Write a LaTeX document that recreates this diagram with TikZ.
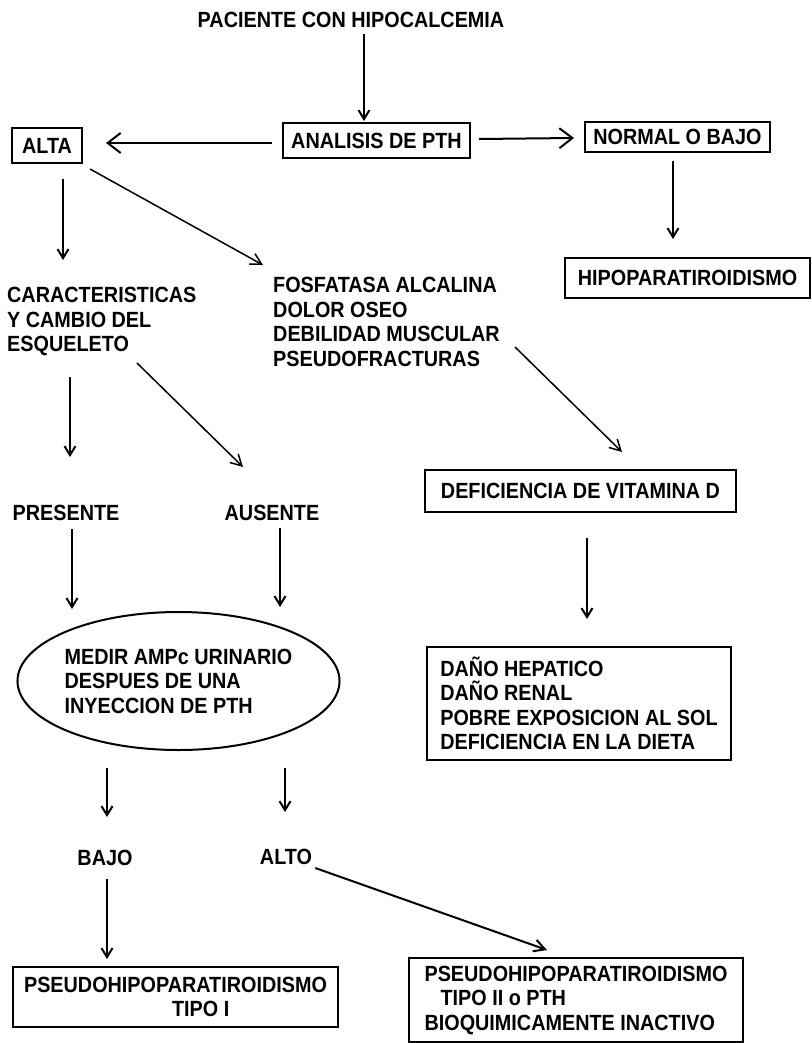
\documentclass[tikz,border=0pt]{standalone}
\usepackage{fontspec}
\setmainfont{Liberation Sans}[FakeStretch=0.9]
\usetikzlibrary{arrows.meta,shapes.geometric,calc}
\newcommand\dfont{\fontsize{22}{24.5}\selectfont\bfseries}
\begin{document}
\begin{tikzpicture}[x=1pt,y=-1pt,
  lbl/.style={inner sep=0pt,font=\dfont},
  txtblock/.style={inner sep=0pt,font=\dfont,align=left,anchor=north west},
  box/.style={draw,line width=2pt,inner sep=0pt,font=\dfont},
  arr/.style={line width=2pt,-{Straight Barb[length=9pt,width=11pt]}},
  harr/.style={line width=2pt,-{Straight Barb[length=13pt,width=20pt]}},
  darr/.style={line width=1.5pt,-{Straight Barb[length=11pt,width=12pt]}}]
\useasboundingbox (0,0) rectangle (811,1043);

% top level
\node[lbl] (title) at (351,20) {PACIENTE CON HIPOCALCEMIA};
\node[box,minimum width=187pt,minimum height=35pt] (analisis) at (376.5,140.5) {ANALISIS DE PTH};
\node[box,minimum width=70pt,minimum height=35pt] (alta) at (47,145.5) {ALTA};
\node[box,minimum width=185pt,minimum height=30pt] (normal) at (677.5,137) {NORMAL O BAJO};
\node[box,minimum width=245pt,minimum height=40pt] (hipo) at (687.5,278) {HIPOPARATIROIDISMO};

% second level
\node[txtblock] (caract) at (7,287) {CARACTERISTICAS\\Y CAMBIO DEL\\ESQUELETO};
\node[txtblock] (fosfa) at (273,277) {FOSFATASA ALCALINA\\DOLOR OSEO\\DEBILIDAD MUSCULAR\\PSEUDOFRACTURAS};
\node[box,minimum width=311pt,minimum height=42pt] (defic) at (580.5,491) {DEFICIENCIA DE VITAMINA D};
\node[lbl] (presente) at (66,513) {PRESENTE};
\node[lbl] (ausente) at (272,513) {AUSENTE};

% test and causes
\node[draw,ellipse,line width=2pt,inner sep=0pt,font=\dfont,align=left,
      minimum width=311pt,minimum height=138pt] (medir) at (178.5,681)
  {MEDIR AMPc URINARIO\\DESPUES DE UNA\\INYECCION DE PTH};
\node[box,align=left,minimum width=304pt,minimum height=113pt] (dano) at (579,703.5)
  {DAÑO HEPATICO\\DAÑO RENAL\\POBRE EXPOSICION AL SOL\\DEFICIENCIA EN LA DIETA};

% results
\node[lbl] (bajo) at (105,858) {BAJO};
\node[lbl] (alto) at (286,857) {ALTO};
\node[box,align=left,minimum width=325pt,minimum height=60pt] (tipoI) at (175.5,997)
  {PSEUDOHIPOPARATIROIDISMO\\\hspace*{148pt}TIPO I};
\node[box,align=left,minimum width=334pt,minimum height=84pt] (tipoII) at (576,1000)
  {PSEUDOHIPOPARATIROIDISMO\\\hspace*{16pt}TIPO II o PTH\\BIOQUIMICAMENTE INACTIVO};

% connectors
\draw[arr] ($(title.south)+(13,6)$) -- ($(analisis.north)+(-12.5,-1)$);
\draw[harr] ($(analisis.west)+(-10,2.5)$) -- ($(alta.east)+(23,-2.5)$);
\draw[harr] ($(analisis.east)+(8,-1.5)$) -- ($(normal.west)+(-10,1)$);
\draw[arr] ($(normal.south)+(-4.5,8)$) -- ($(hipo.north)+(-14.5,-18)$);
\draw[arr] ($(alta.south)+(16,15)$) -- ($(caract.north west)+(56,-27)$);
\draw[darr] ($(alta.south east)+(7,5)$) -- ($(fosfa.north west)+(-10,-12)$);
\draw[arr] ($(caract.north west)+(63,90)$) -- ($(presente.north)+(4,-48)$);
\draw[darr] ($(caract.north west)+(130,76)$) -- ($(ausente.north)+(-29,-38)$);
\draw[darr] ($(fosfa.north west)+(242,70)$) -- ($(defic.north)+(41.5,-17)$);
\draw[arr] ($(presente.south)+(6,8)$) -- ($(medir.north)+(-106.5,-2)$);
\draw[arr] ($(ausente.south)+(8,7)$) -- ($(medir.north)+(101.5,-4)$);
\draw[arr] ($(defic.south)+(6.5,25)$) -- ($(dano.north)+(8,-27)$);
\draw[arr] ($(medir.south)+(-71.5,17)$) -- ($(bajo.north)+(2,-33)$);
\draw[arr] ($(medir.south)+(106.5,17)$) -- ($(alto.north)+(-1,-37)$);
\draw[arr] ($(bajo.south)+(2,13)$) -- ($(tipoI.north)+(-68.5,-7)$);
\draw[darr,line width=2pt] ($(alto.south east)+(3,3)$) -- ($(tipoII.north)+(-29,-7)$);
\end{tikzpicture}
\end{document}
